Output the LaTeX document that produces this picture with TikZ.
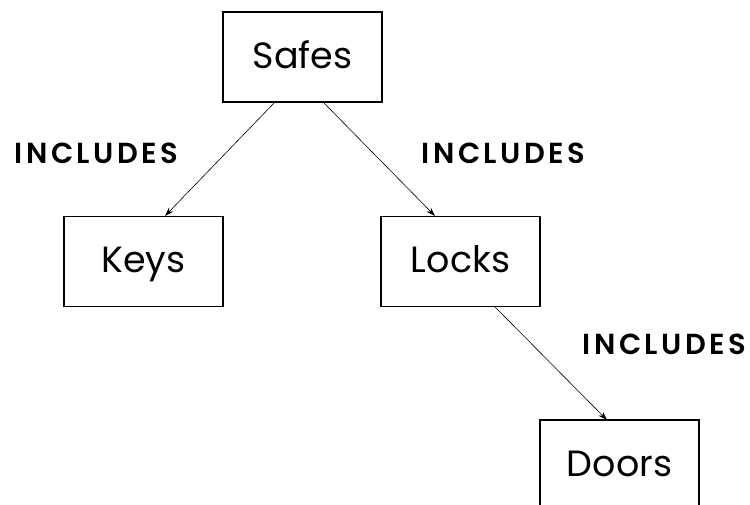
\documentclass[tikz,border=0pt]{standalone}
\usepackage{fontspec}
\setmainfont{Poppins}
\newfontfamily\relfont[LetterSpace=12]{Poppins SemiBold}
\usetikzlibrary{arrows.meta}
\begin{document}
\begin{tikzpicture}[x=1pt,y=-1pt,
  box/.style={draw, line width=1.3pt, minimum width=159pt, minimum height=90pt, inner sep=0pt, text height=26pt, text depth=4pt, font=\fontsize{36.5}{40}\selectfont},
  rel/.style={font=\relfont\fontsize{29}{32}\selectfont, inner sep=0pt},
  conn/.style={line width=0.6pt, -{Stealth[length=9pt,width=6pt]}}]
\useasboundingbox (0,0) rectangle (750,504);
\node[box] (safes) at (302.5,57) {Safes};
\node[box] (keys) at (143.5,261.5) {Keys};
\node[box] (locks) at (460.5,261.5) {Locks};
\node[box] (doors) at (619.5,465) {Doors};
\coordinate (s1) at (275,102);
\coordinate (s2) at (323,102);
\coordinate (k1) at (165,216);
\coordinate (l1) at (435,216);
\coordinate (l2) at (495,307);
\coordinate (d1) at (607,420);
\draw[conn] (s1) -- (k1);
\draw[conn] (s2) -- (l1);
\draw[conn] (l2) -- (d1);
\node[rel] (r1) at (96.5,153) {INCLUDES};
\node[rel] (r2) at (503.5,153) {INCLUDES};
\node[rel] (r3) at (664.5,344) {INCLUDES};
\end{tikzpicture}
\end{document}
